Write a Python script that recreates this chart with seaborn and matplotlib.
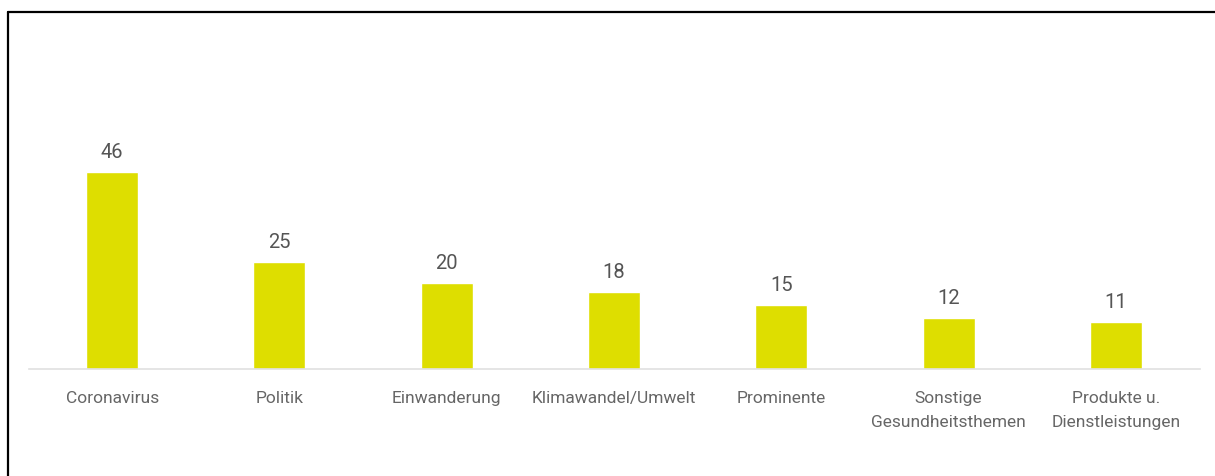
import matplotlib
matplotlib.use("Agg")
import matplotlib.pyplot as plt
import seaborn as sns
import pandas as pd
from matplotlib.lines import Line2D

categories = ["Coronavirus", "Politik", "Einwanderung", "Klimawandel/Umwelt",
              "Prominente", "Sonstige\nGesundheitsthemen", "Produkte u.\nDienstleistungen"]
values = [46, 25, 20, 18, 15, 12, 11]

sns.set_theme(style="white")
plt.rcParams['font.family'] = ['Roboto', 'DejaVu Sans']

df = pd.DataFrame({"cat": categories, "val": values})

W, H = 1215, 476
fig = plt.figure(figsize=(W / 100, H / 100), dpi=100)
ax = fig.add_axes([28.5 / W, 1 - 369 / H, 1171 / W, 339 / H])

sns.barplot(data=df, x="cat", y="val", color="#DEDE00", saturation=1,
            width=0.31, ax=ax)
ax.set_ylim(0, 339 / 4.29)
ax.set_xlim(-0.5, len(categories) - 0.5)

for i, v in enumerate(values):
    ax.annotate(str(v), (i, v), xytext=(0, 7), textcoords="offset points",
                ha="center", va="bottom", fontsize=14.5, color="#555555")

ax.set_xlabel("")
ax.set_ylabel("")
ax.set_yticks([])
ax.tick_params(axis="x", length=0, pad=16, labelsize=12.5, labelcolor="#666666")
for lbl in ax.get_xticklabels():
    lbl.set_linespacing(1.75)
    lbl.set_verticalalignment("top")
for s in ["left", "right", "top"]:
    ax.spines[s].set_visible(False)
ax.spines["bottom"].set_color("#E0E0E0")
ax.spines["bottom"].set_linewidth(1.2)

# frame lines (left and top) of the figure
fig.add_artist(Line2D([8 / W, 8 / W], [0, 1 - 12 / H], color="black", lw=1.6,
                      transform=fig.transFigure))
fig.add_artist(Line2D([8 / W, 1], [1 - 12 / H, 1 - 12 / H], color="black", lw=1.6,
                      transform=fig.transFigure))

fig.savefig("out.png", dpi=100)
